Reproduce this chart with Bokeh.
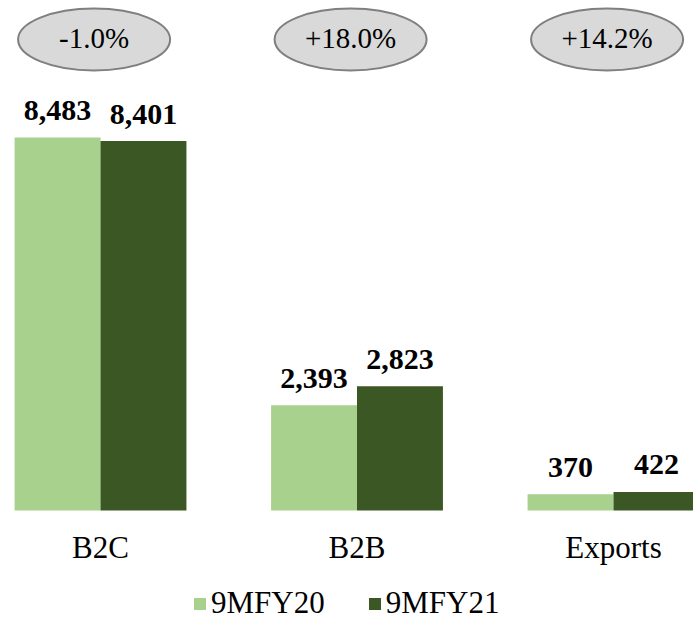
from bokeh.plotting import figure
from bokeh.models import ColumnDataSource, Range1d, Legend, LegendItem
from bokeh.core.properties import value
from bokeh.embed import file_html
from bokeh.resources import INLINE
import numpy as np

# ---- data ----
categories = ["B2C", "B2B", "Exports"]
fy20 = [8483, 2393, 370]
fy21 = [8401, 2823, 422]
growth = ["-1.0%", "+18.0%", "+14.2%"]
series_names = ["9MFY20", "9MFY21"]

# ---- style ----
LIGHT = "#a9d18e"
DARK = "#3b5723"
FONT = "Liberation Serif"
W, H = 693, 622
BAR_W = 0.335
UPX = 22.74          # data units per screen pixel (vertical)

idx = np.arange(len(categories), dtype=float)

p = figure(width=W, height=H, output_backend="svg", toolbar_location=None,
           x_range=Range1d(-0.3899, 2.3119), y_range=Range1d(-112 * UPX, 510 * UPX),
           min_border=0)
p.axis.visible = False
p.grid.visible = False
p.outline_line_color = None

src = ColumnDataSource(dict(
    x20=idx - BAR_W / 2, x21=idx + BAR_W / 2, xc=idx,
    v20=fy20, v21=fy21,
    t20=[v + 27 * UPX for v in fy20], t21=[v + 27 * UPX for v in fy21],
    l20=[f"{v:,}" for v in fy20], l21=[f"{v:,}" for v in fy21],
    cat=categories, g=growth, xe=idx - 0.025,
    ye=[471 * UPX] * len(categories),
))

r20 = p.vbar(x="x20", top="v20", bottom=0, width=BAR_W, source=src,
             fill_color=LIGHT, line_color=None)
r21 = p.vbar(x="x21", top="v21", bottom=0, width=BAR_W, source=src,
             fill_color=DARK, line_color=None)

# value labels
for xcol, lcol, ycol in (("x20", "l20", "t20"), ("x21", "l21", "t21")):
    p.text(x=xcol, y=ycol, text=lcol, source=src,
           text_font=value(FONT), text_font_size="30px", text_font_style="bold",
           text_align="center", text_baseline="alphabetic", text_color="black")

# category labels
p.text(x="xc", y=-37 * UPX, text="cat", source=src,
       text_font=value(FONT), text_font_size="31px",
       text_align="center", text_baseline="alphabetic", text_color="black")

# growth ellipses
p.ellipse(x="xe", y="ye", width=152, height=62, width_units="screen",
          height_units="screen", source=src, fill_color="#d9d9d9",
          line_color="#7f7f7f", line_width=2)
p.text(x="xe", y="ye", text="g", source=src, y_offset=-2,
       text_font=value(FONT), text_font_size="29px",
       text_align="center", text_baseline="middle", text_color="black")

legend = Legend(items=[LegendItem(label=series_names[0], renderers=[r20]),
                       LegendItem(label=series_names[1], renderers=[r21])],
                orientation="horizontal", location=(192, 1),
                glyph_width=15, glyph_height=15, label_standoff=4, spacing=42,
                padding=0, margin=0, border_line_color=None,
                background_fill_alpha=0,
                label_text_font=FONT, label_text_font_size="31px",
                label_text_color="black")
p.add_layout(legend)

open("out.html", "w").write(file_html(p, INLINE))
